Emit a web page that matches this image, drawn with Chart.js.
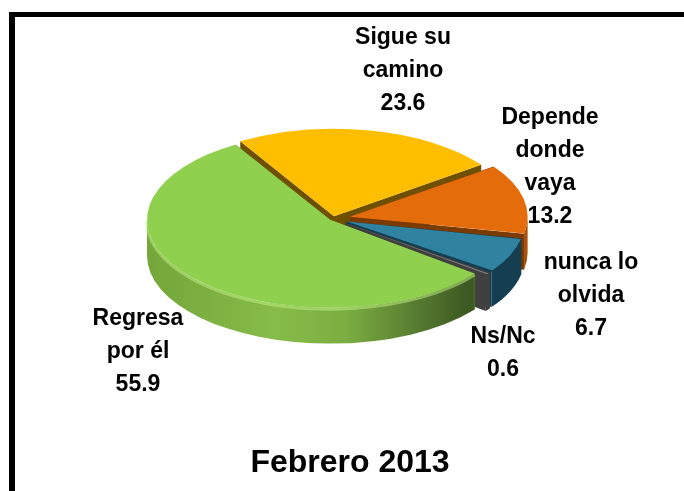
<!DOCTYPE html>
<html><head><meta charset="utf-8">
<style>html,body{margin:0;padding:0;background:#fff;overflow:hidden}#w{position:relative;width:684px;height:491px}</style>
<script src="https://cdn.jsdelivr.net/npm/chart.js@4"></script></head>
<body><div id="w"><canvas id="c" width="684" height="491"></canvas></div>
<script>
const categories=[["Sigue su","camino"],["Depende","donde","vaya"],["nunca lo","olvida"],["Ns/Nc"],["Regresa","por él"]];
const values=[23.6,13.2,6.7,0.6,55.9];
const colors=["#FFBE00","#E46C0A","#2F83A0","#7F7F7F","#8FD04E"];
const wallColors=["#6E5000","#7A3A00","#153E50","#404040","#7FAE42"];
const title="Febrero 2013";
const labelPos=[[403,38],[550,118],[591,263],[503,337],[138,319]];
const offsets=[5,17,15,15,4];
const rims=[182,178,178,178,183];
const CX=333,CY=218.5,SQ=.48,DEPTH=36,LINE=33;
function geo(chart){
  const meta=chart.getDatasetMeta(0);
  return meta.data.map((a,i)=>{
    const off=offsets[i];
    const h=(a.startAngle+a.endAngle)/2;
    return {a,i,s:a.startAngle,e:a.endAngle,x:CX+Math.cos(h)*off,y:CY+Math.sin(h)*off*SQ,r:rims[i]};
  });
}
const depth3d={id:'depth3d',
  afterDatasetsUpdate(chart){
    chart.getDatasetMeta(0).data.forEach((a,i)=>{
      const fix=1-Math.sin(Math.min(Math.PI,a.circumference||0));
      a.outerRadius=rims[i]-offsets[i]*fix;
    });
  },
  beforeDatasetsDraw(chart){
    const ctx=chart.ctx;
    geo(chart).forEach(g=>{
      const col=wallColors[g.i];
      [g.s,g.e].forEach(t=>{
        ctx.beginPath();
        const rx=g.x+Math.cos(t)*g.r,ry=g.y+Math.sin(t)*g.r*SQ;
        ctx.moveTo(g.x,g.y);ctx.lineTo(rx,ry);ctx.lineTo(rx,ry+DEPTH);ctx.lineTo(g.x,g.y+DEPTH);ctx.closePath();
        ctx.fillStyle=col;ctx.fill();
      });
      const P=Math.PI*2,ranges=[];
      for(const k of [-1,0,1]){const lo=Math.max(g.s,k*P),hi=Math.min(g.e,k*P+Math.PI);if(hi>lo)ranges.push([lo,hi]);}
      ranges.forEach(([lo,hi])=>{
        ctx.beginPath();
        ctx.ellipse(g.x,g.y,g.r,g.r*SQ,0,lo,hi);
        ctx.ellipse(g.x,g.y+DEPTH,g.r,g.r*SQ,0,hi,lo,true);
        ctx.closePath();
        if(g.i===4){
          const gr=ctx.createLinearGradient(g.x-g.r,0,g.x+g.r*.75,0);
          gr.addColorStop(0,'#74A63A');gr.addColorStop(.4,'#86BC49');gr.addColorStop(.62,'#7CAE42');gr.addColorStop(.85,'#55792F');gr.addColorStop(1,'#3C5A22');
          ctx.fillStyle=gr;
        } else if(g.i===1){ctx.fillStyle='#A85008';}
        else ctx.fillStyle=col;
        ctx.fill();
        if(g.i===4){
          ctx.beginPath();
          ctx.ellipse(g.x,g.y+1.5,g.r,g.r*SQ,0,lo,hi);
          ctx.strokeStyle='rgba(190,235,130,.55)';ctx.lineWidth=3;ctx.stroke();
        }
      });
    });
    ctx.save();
    ctx.translate(CX,CY);ctx.scale(1,SQ);
    const a0=chart.getDatasetMeta(0).data[0];
    ctx.translate(-a0.x,-a0.y);
  },
  afterDatasetsDraw(chart){
    const ctx=chart.ctx;
    ctx.restore();
    ctx.fillStyle='#000';
    ctx.fillRect(9,12,6,479);
    ctx.fillRect(9,12,675,5);
    ctx.textAlign='center';ctx.textBaseline='middle';ctx.fillStyle='#000';
    ctx.font='bold 23px "Liberation Sans",Arial,sans-serif';
    categories.forEach((lines,i)=>{
      const [x,y]=labelPos[i];
      lines.concat([values[i].toFixed(1)]).forEach((t,j)=>ctx.fillText(t,x,y+j*LINE));
    });
    ctx.font='bold 32px "Liberation Sans",Arial,sans-serif';
    ctx.fillText(title,350,463);
  }
};
new Chart(document.getElementById('c'),{
  type:'pie',
  data:{labels:categories.map(c=>c.join(' ')),datasets:[{data:values,backgroundColor:colors,borderWidth:0,offset:offsets.map(o=>o*4)}]},
  options:{responsive:false,animation:false,rotation:-31,radius:170,
    plugins:{legend:{display:false},tooltip:{enabled:false},title:{display:false}}},
  plugins:[depth3d]
});
</script></body></html>
